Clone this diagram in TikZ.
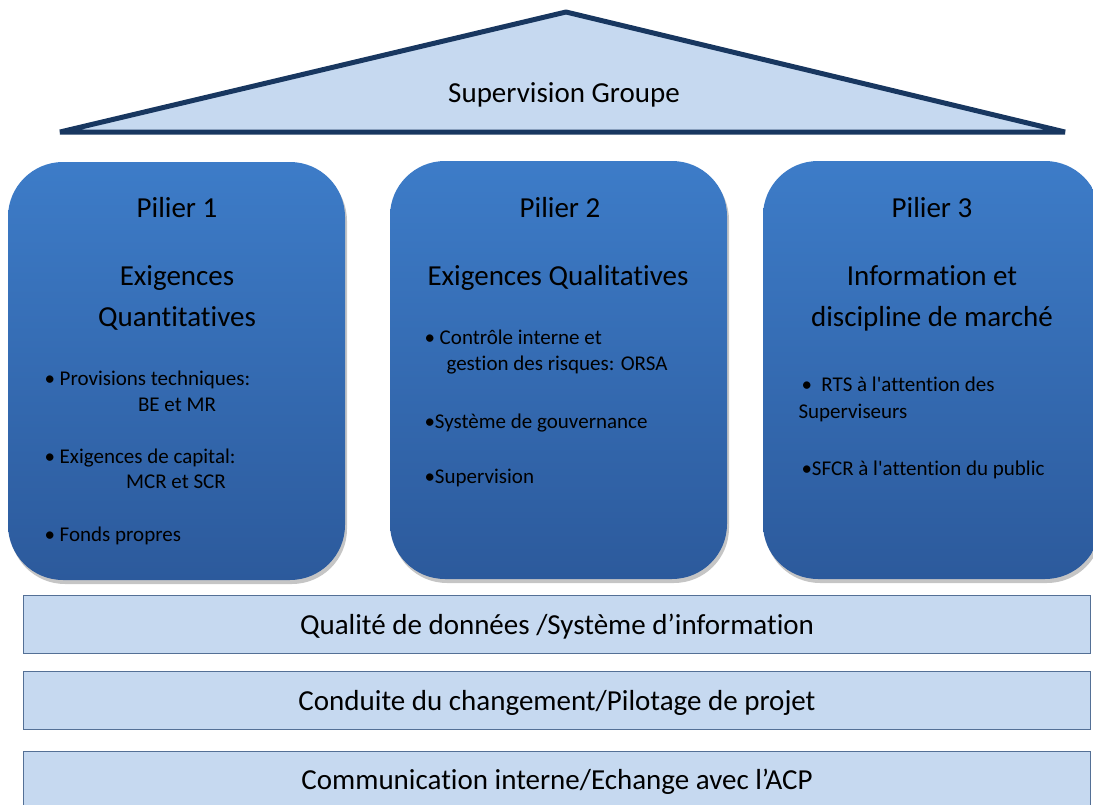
\documentclass[tikz,border=0pt]{standalone}
\usepackage{fontspec}
\setmainfont{Carlito}[Ligatures=NoCommon]
\usetikzlibrary{positioning,shadows}

\definecolor{roofblue}{RGB}{198,217,240}
\definecolor{roofline}{RGB}{24,55,96}
\definecolor{piltop}{RGB}{61,124,200}
\definecolor{pilbot}{RGB}{44,90,156}
\definecolor{barline}{RGB}{84,112,150}

\begin{document}
\begin{tikzpicture}[x=1pt,y=-1pt,
  pillar/.style={rounded corners=55pt, top color=piltop, bottom color=pilbot,
    minimum width=337pt, minimum height=418pt, inner sep=0pt,
    drop shadow={shadow xshift=2pt, shadow yshift=-4pt, fill=black!45}},
  bar/.style={draw=barline, fill=roofblue, line width=1pt, inner sep=0pt,
    minimum width=1067pt, minimum height=58pt},
  bartext/.style={anchor=base, font=\fontsize{29}{34}\selectfont},
  big/.style={anchor=base, font=\fontsize{29}{34}\selectfont},
  item/.style={anchor=base west, font=\fontsize{21}{26}\selectfont},
  itemc/.style={anchor=base, font=\fontsize{21}{26}\selectfont}]
\useasboundingbox (0,0) rectangle (1093,804);

% toit
\draw[line width=5pt, draw=roofline, fill=roofblue, line join=bevel]
  (60,132) -- (566,12) -- (1065,132) -- cycle;
\node[big] (sup) at (564,102) {Supervision Groupe};

% piliers
\node[pillar] (p1) at (176.5,371) {};
\node[pillar] (p2) at (558.5,370) {};
\node[pillar] (p3) at (931.5,370) {};

% pilier 1
\node[big] (p1a) at (177,217) {Pilier 1};
\node[big] (p1b) at (177,285) {Exigences};
\node[big] (p1c) at (177,326) {Quantitatives};
\node[item] (p1d) at (41,385) {• Provisions techniques:};
\node[itemc] (p1e) at (177,411) {BE et MR};
\node[item] (p1f) at (41,463) {• Exigences de capital:};
\node[itemc] (p1g) at (176,488) {MCR et SCR};
\node[item] (p1h) at (41,541) {• Fonds propres};

% pilier 2
\node[big] (p2a) at (560,217) {Pilier 2};
\node[big] (p2b) at (558,285) {Exigences Qualitatives};
\node[item] (p2c) at (421,344) {• Contrôle interne et};
\node[item] (p2d) at (443,370) {gestion des risques: ORSA};
\node[item] (p2e) at (421,428) {•Système de gouvernance};
\node[item] (p2f) at (421,483) {•Supervision};

% pilier 3
\node[big] (p3a) at (932,217) {Pilier 3};
\node[big] (p3b) at (932,285) {Information et};
\node[big] (p3c) at (932,326) {discipline de marché};
\node[item] (p3d) at (798,391) {•\ \ RTS à l\textquotesingle attention des};
\node[item] (p3e) at (795,418) {Superviseurs};
\node[item] (p3f) at (798,475) {•SFCR à l\textquotesingle attention du public};

% socle
\node[bar] (b1) at (556.5,624) {};
\node[bar] (b2) at (556.5,700.5) {};
\node[bar] (b3) at (556.5,780.5) {};
\node[bartext] (b1t) at (557,634) {Qualité de données /Système d’information};
\node[bartext] (b2t) at (557,710) {Conduite du changement/Pilotage de projet};
\node[bartext] (b3t) at (557,789) {Communication interne/Echange avec l’ACP};
\end{tikzpicture}
\end{document}
